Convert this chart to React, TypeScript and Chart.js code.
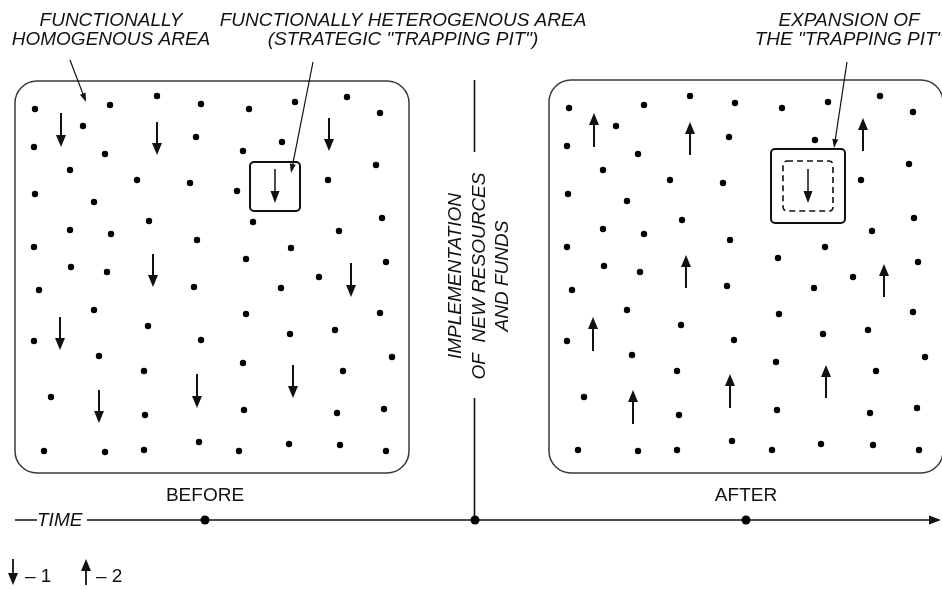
import React, { useEffect, useRef } from "react";
import { Chart, registerables } from "chart.js";

Chart.register(...registerables);

// ---------- DATA ----------
const leftDots: [number, number][] = [
  [35, 109], [110, 105], [157, 96], [201, 104], [249, 109], [295, 102], [347, 97], [380, 113],
  [83, 126], [34, 147], [196, 137], [105, 154], [282, 142], [243, 151],
  [70, 170], [137, 180], [190, 183], [376, 165], [328, 180],
  [35, 194], [94, 202], [237, 191],
  [149, 221], [70, 230], [111, 234], [197, 240], [253, 222], [382, 218], [339, 231],
  [34, 247], [291, 248],
  [71, 267], [107, 272], [246, 259], [386, 262],
  [319, 277], [39, 290], [194, 287], [281, 288],
  [94, 310], [246, 314], [380, 313],
  [148, 326], [290, 334], [335, 330],
  [34, 341], [201, 340],
  [99, 356], [243, 363], [392, 357],
  [144, 371], [343, 371],
  [51, 397], [244, 410], [337, 413], [384, 409],
  [145, 415],
  [44, 451], [105, 452], [144, 450], [199, 442], [239, 451], [289, 444], [340, 445], [386, 451],
];

const rightDots: [number, number][] = [
  [569, 108], [644, 105], [690, 96], [735, 103], [782, 108], [828, 102], [880, 96], [913, 112],
  [616, 126], [567, 146], [729, 137], [638, 154], [815, 140],
  [603, 170], [670, 180], [723, 183], [909, 164], [861, 180],
  [568, 194], [627, 201],
  [682, 220], [603, 229], [644, 234], [730, 240], [914, 218], [872, 231],
  [567, 247], [825, 247],
  [604, 266], [640, 272], [778, 258], [918, 262],
  [853, 277], [572, 290], [727, 286], [814, 288],
  [627, 310], [779, 314], [913, 312],
  [681, 325], [823, 334], [868, 330],
  [567, 341], [734, 340],
  [632, 355], [776, 362], [925, 357],
  [677, 371], [876, 371],
  [584, 397], [777, 410], [870, 413], [917, 408],
  [679, 415],
  [578, 450], [638, 451], [677, 450], [732, 441], [772, 450], [821, 444], [873, 445], [919, 450],
];

// [x, top, bottom]
const downArrows: [number, number, number][] = [
  [61, 113, 147], [157, 122, 155], [329, 118, 151], [153, 254, 287], [60, 317, 350],
  [351, 263, 297], [99, 390, 423], [197, 374, 408], [293, 365, 398],
];
const upArrows: [number, number, number][] = [
  [594, 113, 147], [690, 122, 155], [863, 118, 151], [686, 255, 288], [593, 317, 351],
  [884, 264, 297], [633, 390, 424], [730, 374, 408], [826, 365, 398],
];
const pitArrows: [number, number, number][] = [
  [275, 169, 203], [808, 169, 203],
];

const timeMarks = [205, 475, 746];
const stageLabels = ["BEFORE", "AFTER"];
const topLabels = [
  ["FUNCTIONALLY", "HOMOGENOUS AREA"],
  ["FUNCTIONALLY HETEROGENOUS AREA", "(STRATEGIC \"TRAPPING PIT\")"],
  ["EXPANSION OF", "THE \"TRAPPING PIT\""],
];
const eventLabel = ["IMPLEMENTATION", "OF  NEW RESOURCES", "AND FUNDS"];
const axisLabel = "TIME";
const legendLabels = ["– 1", "– 2"];

// ---------- LAYOUT ----------
const W = 942;
const H = 590;
const FONT = "'Liberation Sans', Arial, sans-serif";

const panels = [
  { x1: 15, y1: 81, x2: 409, y2: 473 },
  { x1: 549, y1: 80, x2: 943, y2: 473 },
];
const pitBoxes = [
  { x1: 250, y1: 162, x2: 300, y2: 211, dash: false },
  { x1: 771, y1: 149, x2: 845, y2: 223, dash: false },
  { x1: 783, y1: 161, x2: 833, y2: 211, dash: true },
];
const topLabelPos = [
  { x: 111, y: 21 },
  { x: 403, y: 21 },
  { x: 849, y: 21 },
];
const callouts = [
  { x1: 70, y1: 60, x2: 86, y2: 102 },
  { x1: 313, y1: 62, x2: 291, y2: 173 },
  { x1: 847, y1: 62, x2: 834, y2: 148 },
];

const diagramPlugin = {
  id: "diagram",
  beforeDatasetsDraw(chart: any) {
    const ctx = chart.ctx as CanvasRenderingContext2D;
    const X = (v: number) => chart.scales.x.getPixelForValue(v);
    const Y = (v: number) => chart.scales.y.getPixelForValue(v);
    ctx.save();
    // panels
    ctx.strokeStyle = "#3a3a3a";
    ctx.lineWidth = 1.5;
    panels.forEach((p) => {
      ctx.beginPath();
      ctx.roundRect(X(p.x1), Y(p.y1), X(p.x2) - X(p.x1), Y(p.y2) - Y(p.y1), 22);
      ctx.stroke();
    });
    pitBoxes.forEach((b) => {
      ctx.beginPath();
      ctx.lineWidth = b.dash ? 1.6 : 2;
      ctx.strokeStyle = "#111";
      ctx.setLineDash(b.dash ? [6, 4] : []);
      ctx.roundRect(X(b.x1), Y(b.y1), X(b.x2) - X(b.x1), Y(b.y2) - Y(b.y1), 4);
      ctx.stroke();
    });
    ctx.setLineDash([]);

    // vertical event line
    ctx.strokeStyle = "#111";
    ctx.lineWidth = 1.6;
    ctx.beginPath();
    ctx.moveTo(X(474.5), Y(80));
    ctx.lineTo(X(474.5), Y(152));
    ctx.moveTo(X(474.5), Y(398));
    ctx.lineTo(X(474.5), Y(520));
    ctx.stroke();

    // time axis
    ctx.beginPath();
    ctx.moveTo(X(15), Y(520));
    ctx.lineTo(X(37), Y(520));
    ctx.moveTo(X(87), Y(520));
    ctx.lineTo(X(930), Y(520));
    ctx.stroke();
    ctx.fillStyle = "#111";
    ctx.beginPath();
    ctx.moveTo(X(941), Y(520));
    ctx.lineTo(X(929), Y(515.5));
    ctx.lineTo(X(929), Y(524.5));
    ctx.closePath();
    ctx.fill();
    ctx.restore();
  },
  afterDatasetsDraw(chart: any) {
    const ctx = chart.ctx as CanvasRenderingContext2D;
    const X = (v: number) => chart.scales.x.getPixelForValue(v);
    const Y = (v: number) => chart.scales.y.getPixelForValue(v);
    ctx.save();
    ctx.fillStyle = "#111";
    ctx.strokeStyle = "#111";

    const vArrow = (x: number, from: number, to: number, lw: number, hl: number, hw: number) => {
      const dir = to > from ? 1 : -1;
      ctx.lineWidth = lw;
      ctx.beginPath();
      ctx.moveTo(X(x), Y(from));
      ctx.lineTo(X(x), Y(to - dir * hl * 0.8));
      ctx.stroke();
      ctx.beginPath();
      ctx.moveTo(X(x), Y(to));
      ctx.lineTo(X(x - hw / 2), Y(to - dir * hl));
      ctx.lineTo(X(x + hw / 2), Y(to - dir * hl));
      ctx.closePath();
      ctx.fill();
    };
    downArrows.forEach(([x, t, b]) => vArrow(x, t, b, 2, 12, 10));
    upArrows.forEach(([x, t, b]) => vArrow(x, b, t, 2, 12, 10));
    pitArrows.forEach(([x, t, b]) => vArrow(x, t, b, 1.5, 12, 9));

    // callouts
    callouts.forEach((c) => {
      const x1 = X(c.x1), y1 = Y(c.y1), x2 = X(c.x2), y2 = Y(c.y2);
      const a = Math.atan2(y2 - y1, x2 - x1);
      ctx.lineWidth = 1.2;
      ctx.beginPath();
      ctx.moveTo(x1, y1);
      ctx.lineTo(x2 - Math.cos(a) * 6, y2 - Math.sin(a) * 6);
      ctx.stroke();
      ctx.beginPath();
      ctx.moveTo(x2, y2);
      ctx.lineTo(x2 - Math.cos(a) * 9 + Math.sin(a) * 3, y2 - Math.sin(a) * 9 - Math.cos(a) * 3);
      ctx.lineTo(x2 - Math.cos(a) * 9 - Math.sin(a) * 3, y2 - Math.sin(a) * 9 + Math.cos(a) * 3);
      ctx.closePath();
      ctx.fill();
    });

    // top labels
    ctx.font = `italic 19px ${FONT}`;
    ctx.textAlign = "center";
    ctx.textBaseline = "middle";
    topLabels.forEach((lines, i) => {
      lines.forEach((t, j) => {
        ctx.fillText(t, X(topLabelPos[i].x), Y(topLabelPos[i].y + j * 19));
      });
    });

    // event label (rotated)
    eventLabel.forEach((t, j) => {
      ctx.save();
      ctx.translate(X(456 + j * 23.5), Y(276));
      ctx.rotate(-Math.PI / 2);
      ctx.fillText(t, 0, 0);
      ctx.restore();
    });

    // axis label
    ctx.textAlign = "left";
    ctx.fillText(axisLabel, X(37), Y(521));

    // stage labels
    ctx.font = `19px ${FONT}`;
    ctx.textAlign = "center";
    stageLabels.forEach((t, i) => {
      ctx.fillText(t, X(timeMarks[i === 0 ? 0 : 2]), Y(496));
    });

    // legend
    vArrow(13, 559, 585, 1.8, 12, 10);
    vArrow(86, 585, 559, 1.8, 12, 10);
    ctx.textAlign = "left";
    ctx.fillText(legendLabels[0], X(25), Y(577));
    ctx.fillText(legendLabels[1], X(96), Y(577));
    ctx.restore();
  },
};

export default function App() {
  const ref = useRef<HTMLCanvasElement>(null);
  useEffect(() => {
    document.body.style.margin = "0";
    const canvas = ref.current!;
    const toPts = (arr: [number, number][]) => arr.map(([x, y]) => ({ x, y }));
    const chart = new Chart(canvas, {
      type: "scatter",
      data: {
        datasets: [
          { label: "before", data: toPts(leftDots), pointRadius: 3.2, pointBackgroundColor: "#000", pointBorderWidth: 0 },
          { label: "after", data: toPts(rightDots), pointRadius: 3.2, pointBackgroundColor: "#000", pointBorderWidth: 0 },
          {
            label: "time",
            data: timeMarks.map((x) => ({ x, y: 520 })),
            pointRadius: 4.5,
            pointBackgroundColor: "#000",
            pointBorderWidth: 0,
          },
        ],
      },
      options: {
        responsive: false,
        animation: false,
        layout: { padding: 0, autoPadding: false },
        plugins: { legend: { display: false }, tooltip: { enabled: false } },
        scales: {
          x: { type: "linear", min: 0, max: W, display: false },
          y: { type: "linear", min: 0, max: H, reverse: true, display: false },
        },
      },
      plugins: [diagramPlugin],
    });
    return () => chart.destroy();
  }, []);
  return (
    <div style={{ width: W, height: H, background: "#fff" }}>
      <canvas ref={ref} width={W} height={H} style={{ display: "block" }} />
    </div>
  );
}
